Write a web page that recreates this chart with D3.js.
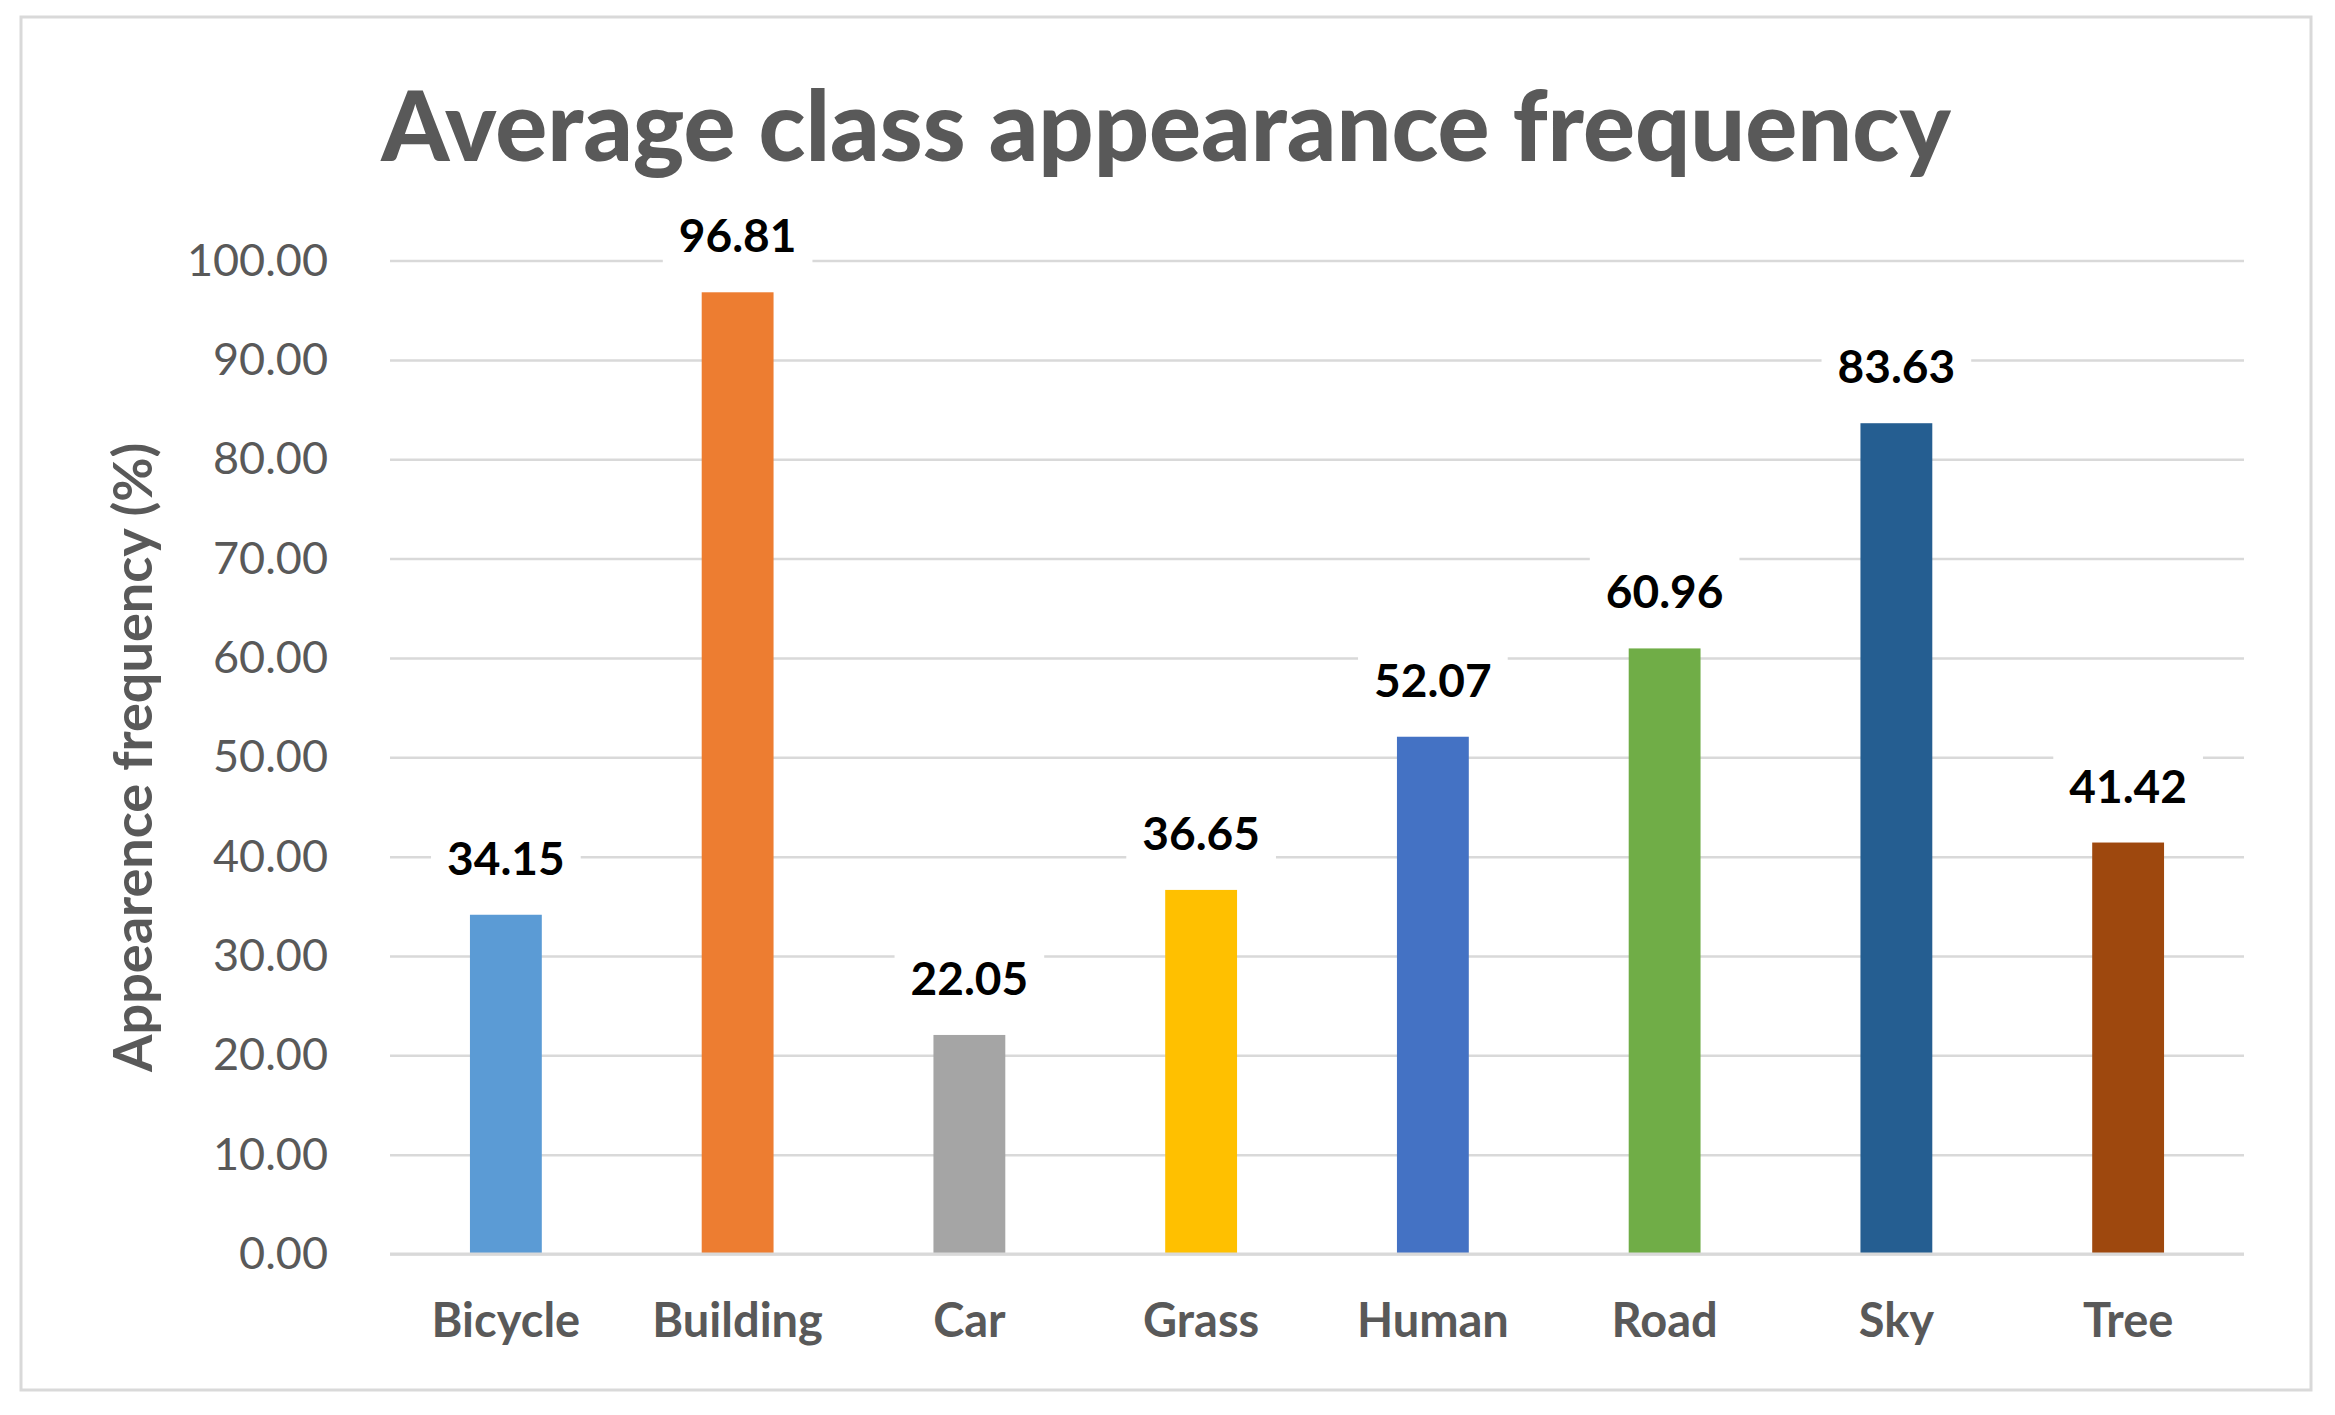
<!DOCTYPE html>
<html>
<head>
<meta charset="utf-8">
<script src="https://cdn.jsdelivr.net/npm/d3@7"></script>
<style>
  html, body { margin: 0; padding: 0; background: #fff; }
  svg { display: block; }
</style>
</head>
<body>
<svg id="chart" width="2335" height="1415"></svg>
<script>
// dados
const categorias = ['Bicycle', 'Building', 'Car', 'Grass', 'Human', 'Road', 'Sky', 'Tree'];
const valores = [34.15, 96.81, 22.05, 36.65, 52.07, 60.96, 83.63, 41.42];
const cores = ['#5B9BD5', '#ED7D31', '#A5A5A5', '#FFC000', '#4472C4', '#70AD47', '#255E91', '#9E480E'];
const ticksY = [0, 10, 20, 30, 40, 50, 60, 70, 80, 90, 100];

const W = 2335, H = 1415;
const plot = { left: 390, right: 2244, top: 260.6, bottom: 1254 };
const fonte = 'Lato, "Open Sans", sans-serif';
const cinza = '#595959';

const svg = d3.select('#chart');

// moldura externa
svg.append('rect')
  .attr('x', 21).attr('y', 17).attr('width', 2290).attr('height', 1373)
  .attr('fill', '#fff').attr('stroke', '#d9d9d9').attr('stroke-width', 3);

const x = d3.scaleBand().domain(categorias)
  .range([plot.left, plot.right]).paddingInner(0.69).paddingOuter(0.345);
const y = d3.scaleLinear().domain([0, 100]).range([plot.bottom, plot.top]);

// grade + rótulos do eixo y
const eixoY = svg.append('g')
  .attr('transform', `translate(${plot.left},0)`)
  .call(d3.axisLeft(y).tickValues(ticksY).tickFormat(d3.format('.2f'))
    .tickSize(-(plot.right - plot.left)).tickPadding(62));
eixoY.select('.domain').remove();
eixoY.selectAll('.tick line').attr('stroke', '#d9d9d9').attr('stroke-width', 2.5);
eixoY.selectAll('.tick text')
  .attr('fill', cinza).attr('font-family', fonte).attr('font-size', 45);

// barras
svg.append('g').selectAll('rect').data(valores).join('rect')
  .attr('x', (d, i) => x(categorias[i]))
  .attr('width', x.bandwidth())
  .attr('y', (d) => y(d))
  .attr('height', (d) => y(0) - y(d))
  .attr('fill', (d, i) => cores[i]);

// rótulos de dados com fundo branco (cortam a grade como no Excel)
const rotulos = svg.append('g').selectAll('g').data(valores).join('g')
  .attr('transform', (d, i) => `translate(${x(categorias[i]) + x.bandwidth() / 2},${y(d) - 40})`);
rotulos.append('text')
  .attr('text-anchor', 'middle')
  .attr('font-family', fonte).attr('font-weight', 'bold').attr('font-size', 46)
  .attr('fill', '#000')
  .text((d) => d3.format('.2f')(d));
rotulos.insert('rect', 'text')
  .each(function () {
    const b = this.parentNode.querySelector('text').getBBox();
    d3.select(this)
      .attr('x', b.x - 16).attr('y', b.y - 10)
      .attr('width', b.width + 32).attr('height', b.height + 16)
      .attr('fill', '#fff');
  });

// eixo x: só os nomes
const eixoX = svg.append('g')
  .attr('transform', `translate(0,${plot.bottom})`)
  .call(d3.axisBottom(x).tickSize(0).tickPadding(50));
eixoX.select('.domain').remove();
eixoX.selectAll('.tick text')
  .attr('fill', cinza).attr('font-family', fonte).attr('font-weight', 'bold').attr('font-size', 47);

// linha de base
svg.append('line')
  .attr('x1', plot.left).attr('x2', plot.right)
  .attr('y1', plot.bottom).attr('y2', plot.bottom)
  .attr('stroke', '#d9d9d9').attr('stroke-width', 3);

// título
svg.append('text')
  .attr('x', 1166).attr('y', 161)
  .attr('text-anchor', 'middle')
  .attr('font-family', fonte).attr('font-weight', 900).attr('font-size', 97)
  .attr('fill', cinza)
  .text('Average class appearance frequency');

// título do eixo y
svg.append('text')
  .attr('transform', `translate(152,${(plot.top + plot.bottom) / 2}) rotate(-90)`)
  .attr('text-anchor', 'middle')
  .attr('font-family', fonte).attr('font-weight', 'bold').attr('font-size', 54)
  .attr('fill', cinza)
  .text('Appearence frequency (%)');
</script>
</body>
</html>
